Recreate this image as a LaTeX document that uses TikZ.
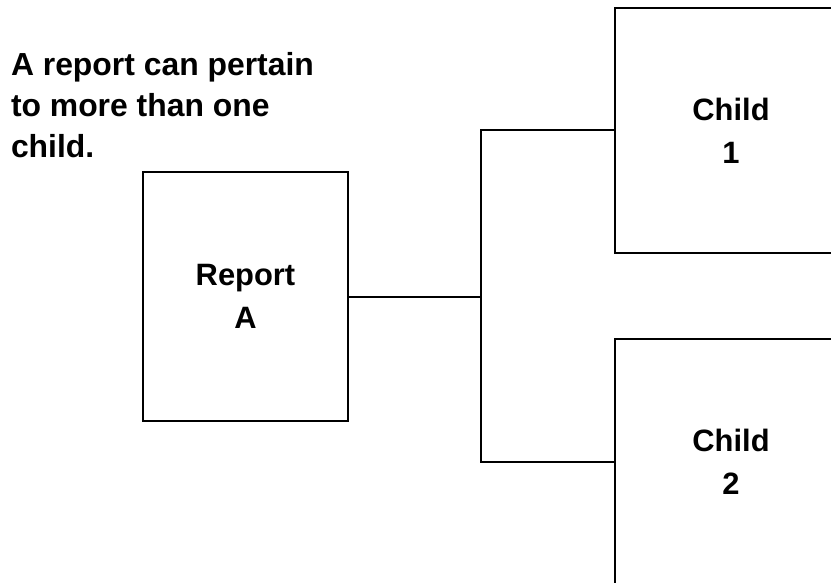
\documentclass[tikz,border=0pt]{standalone}
\usepackage{fontspec}
\setmainfont{Liberation Sans}
\usepackage{tikz}

\tikzset{
	boxNode/.style={rectangle, draw, line width=2bp, align=center,
		font=\bfseries\fontsize{31}{43}\selectfont},
}

\begin{document}
\begin{tikzpicture}[x=1bp, y=-1bp, line width=2bp]
		
		\useasboundingbox (0,0) rectangle (831,583);
		\clip (0,0) rectangle (831,583);
		
		\node[boxNode, minimum width=205bp, minimum height=249bp]
		(reportNode) at (245.5,296.5) {Report\\A};
		
		\node[boxNode, minimum width=232bp, minimum height=245bp]
		(childNode1) at (731,130.5) {Child\\1};
		
		\node[boxNode, minimum width=232bp, minimum height=245bp]
		(childNode2) at (731,461.5) {Child\\2};
		
		\node[align=left, anchor=base west, inner sep=0,
		font=\bfseries\fontsize{32}{41.5}\selectfont]
		(noteText) at (10,158) {A report can pertain\\to more than one\\child.};
		
		% Edges...
		
		\coordinate (splitPoint) at (481,296.5);
		
		\draw (reportNode.east) -- (splitPoint);
		\draw (splitPoint) |- (childNode1.west);
		\draw (splitPoint) |- (childNode2.west);
		
	\end{tikzpicture}
\end{document}
